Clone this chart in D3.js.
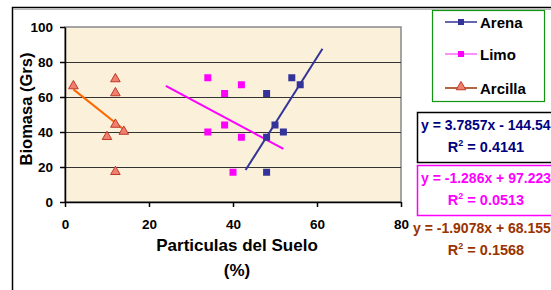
<!DOCTYPE html>
<html>
<head>
<meta charset="utf-8">
<script src="https://cdnjs.cloudflare.com/ajax/libs/d3/7.8.5/d3.min.js"></script>
<style>
  body { margin: 0; background: #fff; }
  svg { display: block; font-family: "Liberation Sans", Arial, sans-serif; font-weight: bold; }
</style>
</head>
<body>
<div id="chart"></div>
<script>
// DATA
var arenaX = [48, 54, 56, 50, 52, 48, 48];
var arenaY = [62, 71, 67, 44, 40, 37, 17];
var limoX = [34, 38, 42, 34, 38, 42, 40];
var limoY = [71, 62, 67, 40, 44, 37, 17];
var arcillaX = [2, 12, 12, 12, 14, 10, 12];
var arcillaY = [66, 70, 62, 44, 40, 37, 17];

// trend lines: slope, intercept, x range drawn
var trendSlope = [3.7857, -1.286, -1.9078];
var trendIntercept = [-144.54, 97.223, 68.155];
var trendRange = [[43, 61.3], [24, 52], [2, 14]];
var trendText = ["y = 3.7857x - 144.54", "y = -1.286x + 97.223", "y = -1.9078x + 68.155"];
var r2Text = ["0.4141", "0.0513", "0.1568"];

var seriesNames = ["Arena", "Limo", "Arcilla"];
var xTicks = [0, 20, 40, 60, 80];
var yTicks = [0, 20, 40, 60, 80, 100];

var w = 551;
var h = 290;

var svg = d3.select("#chart").append("svg").attr("width", w).attr("height", h);

// outer chart border
svg.append("rect").attr("x", 12.5).attr("y", 7.5).attr("width", 600).attr("height", 400)
  .attr("fill", "#fff").attr("stroke", "#000").attr("stroke-width", 1.5);
svg.append("line").attr("x1", 14).attr("x2", w).attr("y1", 9.5).attr("y2", 9.5)
  .attr("stroke", "#bbb");

// SCALES
var xScale = d3.scaleLinear().domain([0, 80]).range([65, 401]);
var yScale = d3.scaleLinear().domain([0, 100]).range([202, 27]);

// plot area
svg.append("rect")
  .attr("x", xScale(0)).attr("y", yScale(100))
  .attr("width", xScale(80) - xScale(0)).attr("height", yScale(0) - yScale(100))
  .attr("fill", "#fbf0da").attr("stroke", "#888").attr("stroke-width", 1.5);

// gridlines
svg.selectAll(".grid")
  .data(yTicks.filter(function (d) { return d > 0 && d < 100; }))
  .enter().append("line")
  .attr("x1", xScale(0)).attr("x2", xScale(80))
  .attr("y1", function (d) { return Math.round(yScale(d)) + 0.5; })
  .attr("y2", function (d) { return Math.round(yScale(d)) + 0.5; })
  .attr("stroke", "#333").attr("stroke-width", 1);

// AXES
var yAxis = d3.axisLeft(yScale).tickValues(yTicks).tickSize(5).tickSizeOuter(0).tickPadding(7);
var xAxis = d3.axisBottom(xScale).tickValues(xTicks).tickSize(5).tickSizeOuter(0).tickPadding(12);

var gy = svg.append("g").attr("transform", "translate(" + xScale(0) + ",0)").call(yAxis);
var gx = svg.append("g").attr("transform", "translate(0," + yScale(0) + ")").call(xAxis);
[gx, gy].forEach(function (g) {
  g.select(".domain").attr("stroke", "#000").attr("stroke-width", 1.5);
  g.selectAll(".tick line").attr("stroke", "#000").attr("stroke-width", 1.5);
  g.selectAll("text").attr("font-size", "13.5px").attr("font-weight", "bold")
    .attr("font-family", "Liberation Sans, Arial, sans-serif").attr("fill", "#000");
});

// axis titles
svg.append("text")
  .attr("transform", "translate(32,109) rotate(-90)")
  .attr("text-anchor", "middle").attr("font-size", "16.5px")
  .text("Biomasa (Grs)");
svg.append("text").attr("x", 237).attr("y", 251)
  .attr("text-anchor", "middle").attr("font-size", "17px")
  .text("Particulas del Suelo");
svg.append("text").attr("x", 237).attr("y", 276)
  .attr("text-anchor", "middle").attr("font-size", "17px")
  .text("(%)");

// TREND LINES
var trendColor = ["#333399", "#ff00ff", "#ff6600"];
trendSlope.forEach(function (m, i) {
  var r = trendRange[i];
  svg.append("line")
    .attr("x1", xScale(r[0])).attr("y1", yScale(m * r[0] + trendIntercept[i]))
    .attr("x2", xScale(r[1])).attr("y2", yScale(m * r[1] + trendIntercept[i]))
    .attr("stroke", trendColor[i]).attr("stroke-width", 2);
});

// MARKERS
function squares(xs, ys, color) {
  svg.append("g").selectAll("rect")
    .data(xs)
    .enter().append("rect")
    .attr("x", function (d) { return xScale(d) - 3.5; })
    .attr("y", function (d, i) { return yScale(ys[i]) - 3.5; })
    .attr("width", 7).attr("height", 7)
    .attr("fill", color);
}
var tri = d3.symbol().type(d3.symbolTriangle).size(40);
function triangles(xs, ys) {
  svg.append("g").selectAll("path")
    .data(xs)
    .enter().append("path")
    .attr("d", tri)
    .attr("transform", function (d, i) { return "translate(" + xScale(d) + "," + (yScale(ys[i]) - 0.5) + ")"; })
    .attr("fill", "#f0806e").attr("stroke", "#c0392b").attr("stroke-width", 1);
}
squares(limoX, limoY, "#ff00ff");
squares(arenaX, arenaY, "#333399");
triangles(arcillaX, arcillaY);

// LEGEND
svg.append("rect").attr("x", 432.5).attr("y", 10.5).attr("width", 112).attr("height", 91)
  .attr("fill", "#fff").attr("stroke", "#129612").attr("stroke-width", 1.2);
var legLine = ["#333399", "#ff44ff", "#993300"];
var legY = [22, 54, 88];
seriesNames.forEach(function (name, i) {
  svg.append("line").attr("x1", 445).attr("x2", 477).attr("y1", legY[i]).attr("y2", legY[i])
    .attr("stroke", legLine[i]).attr("stroke-width", i === 1 ? 1.2 : 1.5);
  if (i < 2) {
    svg.append("rect").attr("x", 458).attr("y", legY[i] - 3).attr("width", 6).attr("height", 6)
      .attr("fill", trendColor[i]);
  } else {
    svg.append("path").attr("d", tri).attr("transform", "translate(461," + (legY[i] - 1) + ")")
      .attr("fill", "#f0806e").attr("stroke", "#c0392b");
  }
  svg.append("text").attr("x", 480).attr("y", legY[i] + 5.5).attr("font-size", "15px").text(name);
});

// EQUATION LABELS
var eqColor = ["#000080", "#ff00ff", "#993300"];
var eqBorder = ["#000", "#ff00ff", null];
var eqTop = [112, 165, 215];
trendText.forEach(function (t, i) {
  if (eqBorder[i]) {
    svg.append("rect").attr("x", 417.5).attr("y", eqTop[i] + 0.5).attr("width", 150).attr("height", 50)
      .attr("fill", "#fff").attr("stroke", eqBorder[i]).attr("stroke-width", 1.5);
  }
  svg.append("text").attr("x", i === 2 ? 413 : 421).attr("y", eqTop[i] + 17.5)
    .attr("font-size", "14px").attr("fill", eqColor[i]).text(t);
  var r = svg.append("text").attr("x", 486).attr("y", eqTop[i] + 40)
    .attr("text-anchor", "middle").attr("font-size", "14.5px").attr("fill", eqColor[i]);
  r.append("tspan").text("R");
  r.append("tspan").attr("font-size", "9px").attr("dy", -6).text("2");
  r.append("tspan").attr("dy", 6).text(" = " + r2Text[i]);
});
</script>
</body>
</html>
